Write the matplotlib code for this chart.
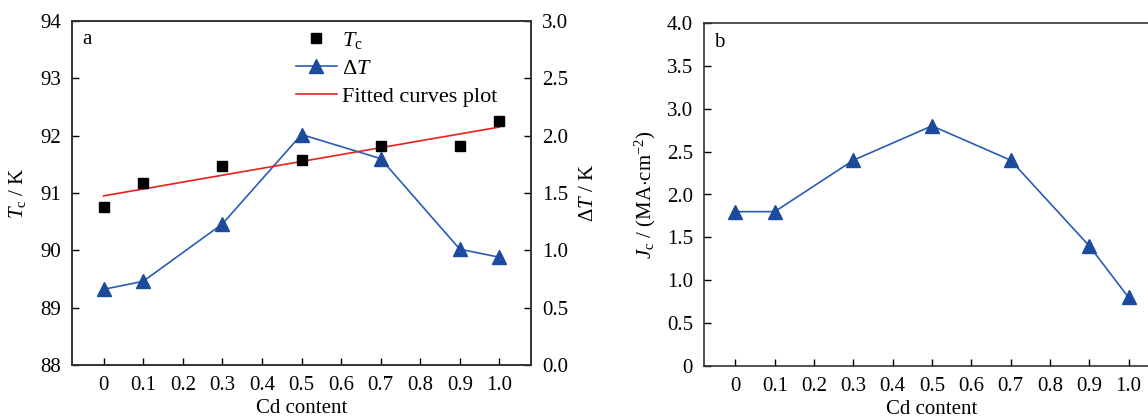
import matplotlib
matplotlib.use('Agg')
import matplotlib.pyplot as plt
from matplotlib.lines import Line2D

plt.rcParams['font.family'] = ['Liberation Serif', 'DejaVu Serif']
plt.rcParams['mathtext.fontset'] = 'custom'
plt.rcParams['mathtext.rm'] = 'Liberation Serif'
plt.rcParams['mathtext.it'] = 'Liberation Serif:italic'
plt.rcParams['font.size'] = 15

# data
cd = [0, 0.1, 0.3, 0.5, 0.7, 0.9, 1.0]
tc = [90.76, 91.17, 91.47, 91.58, 91.82, 91.82, 92.26]
dT = [0.66, 0.73, 1.23, 2.01, 1.80, 1.01, 0.94]
fit_x = [0, 1.0]
fit_y = [90.95, 92.15]
jc = [1.8, 1.8, 2.4, 2.8, 2.4, 1.4, 0.8]

xticks = [0, 0.1, 0.2, 0.3, 0.4, 0.5, 0.6, 0.7, 0.8, 0.9, 1.0]
xticklabels = ['0', '0.1', '0.2', '0.3', '0.4', '0.5', '0.6', '0.7', '0.8', '0.9', '1.0']

blue_line = '#2a5cb6'
blue_fill = '#1c4a9c'
red = '#e8201c'

W, H = 1148, 419
fig = plt.figure(figsize=(W / 100, H / 100), dpi=100)

def box(l, r, t, b):
    return [l / W, 1 - b / H, (r - l) / W, (b - t) / H]

def style(ax):
    ax.tick_params(direction='in', length=5, width=1, pad=8, labelsize=15)
    for s in ax.spines.values():
        s.set_linewidth(1.2)
        s.set_color('#333333')

# panel a
ax1 = fig.add_axes(box(72, 531, 21, 365))
ax1.plot(cd, tc, 's', color='black', markersize=7.5, zorder=5)
ax1.plot(fit_x, fit_y, '-', color=red, linewidth=1.2)
ax1.set_xlim(-0.08, 1.08)
ax1.set_ylim(88, 94)
ax1.set_xticks(xticks)
ax1.set_xticklabels(xticklabels)
ax1.set_yticks([88, 89, 90, 91, 92, 93, 94])
ax1.set_xlabel('Cd content', labelpad=3)
ax1.set_ylabel(r'$T_\mathrm{c}$ / K', labelpad=9)
ax1.tick_params(axis='x', bottom=True, top=False)
style(ax1)

ax2 = ax1.twinx()
ax2.plot(cd, dT, '-^', color=blue_line, markerfacecolor=blue_fill,
         markeredgecolor=blue_fill, markersize=10, linewidth=1.2)
ax2.set_ylim(0, 3.0)
ax2.set_yticks([0, 0.5, 1.0, 1.5, 2.0, 2.5, 3.0])
ax2.set_yticklabels(['0.0', '0.5', '1.0', '1.5', '2.0', '2.5', '3.0'])
ax2.set_ylabel(r'$\Delta T$ / K', labelpad=8)
style(ax2)
ax1.set_zorder(ax2.get_zorder() + 1)
ax1.patch.set_visible(False)

ax1.text(0.022, 0.975, 'a', transform=ax1.transAxes, ha='left', va='top', fontsize=15)

handles = [
    Line2D([], [], linestyle='none', marker='s', color='black', markersize=7.5),
    Line2D([], [], color=blue_line, marker='^', markerfacecolor=blue_fill,
           markeredgecolor=blue_fill, markersize=10, linewidth=1.2),
    Line2D([], [], color=red, linewidth=1.2),
]
ax1.legend(handles, [r'$T_\mathrm{c}$', r'$\Delta T$', 'Fitted curves plot'],
           loc='upper left', bbox_to_anchor=(0.468, 1.0), frameon=False,
           fontsize=16, handlelength=1.85, handletextpad=0.25, labelspacing=0.33,
           borderaxespad=0)

# panel b
ax3 = fig.add_axes(box(704, 1160, 23, 366))
ax3.plot(cd, jc, '-^', color=blue_line, markerfacecolor=blue_fill,
         markeredgecolor=blue_fill, markersize=10, linewidth=1.2)
ax3.set_xlim(-0.08, 1.08)
ax3.set_ylim(0, 4.0)
ax3.set_xticks(xticks)
ax3.set_xticklabels(xticklabels)
ax3.set_yticks([0, 0.5, 1.0, 1.5, 2.0, 2.5, 3.0, 3.5, 4.0])
ax3.set_yticklabels(['0', '0.5', '1.0', '1.5', '2.0', '2.5', '3.0', '3.5', '4.0'])
ax3.set_xlabel('Cd content', labelpad=3)
ax3.set_ylabel(r'$J_\mathrm{c}$ / (MA$\cdot$cm$^{-2}$)', labelpad=6)
style(ax3)
ax3.text(0.022, 0.97, 'b', transform=ax3.transAxes, ha='left', va='top', fontsize=15)

fig.savefig('out.png', dpi=100)
